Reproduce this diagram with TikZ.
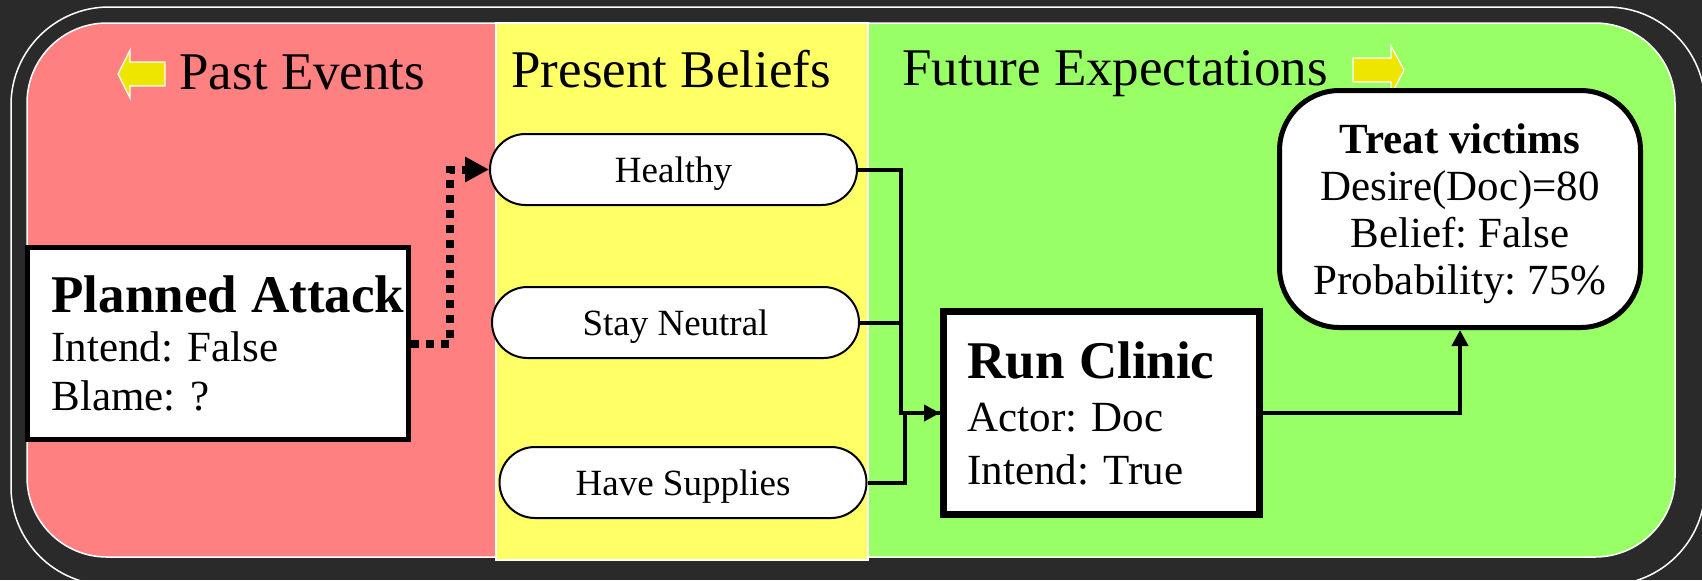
\documentclass[tikz,border=0pt]{standalone}
\usepackage{fontspec}
\setmainfont{Liberation Serif}
\frenchspacing
\usetikzlibrary{shapes.misc,arrows.meta}

\definecolor{bgdark}{RGB}{42,42,42}
\definecolor{pastred}{RGB}{255,128,128}
\definecolor{nowyellow}{RGB}{255,255,102}
\definecolor{futgreen}{RGB}{153,255,102}
\definecolor{arrowyellow}{RGB}{238,230,0}

\begin{document}
\begin{tikzpicture}[x=0.5pt,y=-0.5pt,
    header/.style={anchor=base west,inner sep=0pt,font=\fontsize{26.5}{30}\selectfont},
    belief/.style={rounded rectangle,draw,fill=white,line width=1pt,minimum width=183.5pt,minimum height=35.5pt,inner sep=0pt,text depth=0pt,font=\fontsize{18.5}{20}\selectfont},
    event/.style={rectangle,draw,fill=white,align=left,inner xsep=12pt,inner ysep=0pt},
    link/.style={line width=2pt,-{Triangle[length=8pt,width=8pt]}},
    wire/.style={line width=2pt},
    dotlink/.style={line width=4pt,dash pattern=on 4pt off 3.5pt,-{Triangle[length=12pt,width=12pt]}},
    timearrow/.style={fill=arrowyellow,draw=white,line width=0.6pt}]
    \useasboundingbox (0,0) rectangle (1702,580);
    \fill[bgdark] (0,0) rectangle (1702,580);
    \draw[white,line width=0.75pt,rounded corners=49pt] (11,7) rectangle (1705,585);
    %past and future
    \fill[pastred,rounded corners=40pt] (27,23) rectangle (1675,557);
    \begin{scope}
        \clip[rounded corners=40pt] (27,23) rectangle (1675,557);
        \fill[futgreen] (868,0) rectangle (1702,580);
    \end{scope}
    \draw[white,line width=0.75pt,rounded corners=40pt] (27,23) rectangle (1675,557);
    %present
    \filldraw[fill=nowyellow,draw=white,line width=0.75pt] (496,23) rectangle (868,560);
    %headers
    \filldraw[timearrow] (118,74) -- (130,50) -- (130,62) -- (165,62) -- (165,86) -- (130,86) -- (130,98) -- cycle;
    \node[header] (past) at (179,89) {Past Events};
    \node[header] (present) at (511,87) {Present Beliefs};
    \node[header] (future) at (902,85) {Future Expectations};
    \filldraw[timearrow] (1404,70) -- (1391,46) -- (1391,58) -- (1353,58) -- (1353,82) -- (1391,82) -- (1391,95) -- cycle;
    %events and beliefs
    \node[event,text width=166.5pt,minimum height=96pt,line width=2.5pt,font=\fontsize{21.5}{24.5}\selectfont] (attack) at (218,343.5)
        {\mbox{\fontsize{26.5}{30}\selectfont\bfseries Planned Attack}\\Intend: False\\Blame: ?};
    \node[belief] (healthy) at (673.5,169.5) {Healthy};
    \node[belief] (neutral) at (675.5,322.5) {Stay Neutral};
    \node[belief] (supplies) at (683,482.5) {Have Supplies};
    \node[event,text width=134pt,minimum height=101.5pt,line width=3.5pt,font=\fontsize{21.5}{26.5}\selectfont] (clinic) at (1101.5,413)
        {{\fontsize{26.5}{30}\selectfont\bfseries Run Clinic}\\Actor: Doc\\Intend: True};
    \node[draw,fill=white,rounded corners=30pt,line width=2.5pt,minimum width=180.5pt,minimum height=118.5pt,align=center,
        font=\fontsize{21.5}{23.5}\selectfont] (treat) at (1460,209)
        {\rule{0pt}{20pt}\textbf{Treat victims}\\Desire(Doc)=80\\Belief: False\\Probability: 75\%};
    %links
    \draw[dotlink] (attack.east) -- ++(39,0) |- (healthy.west);
    \draw[wire] (neutral.east) -- ++(41,0);
    \draw[wire] (supplies.east) -- ++(37,0) |- (clinic.west);
    \draw[link] (healthy.east) -- ++(43,0) |- (clinic.west);
    \draw[link] (clinic.east) -| (treat.south);
\end{tikzpicture}
\end{document}
